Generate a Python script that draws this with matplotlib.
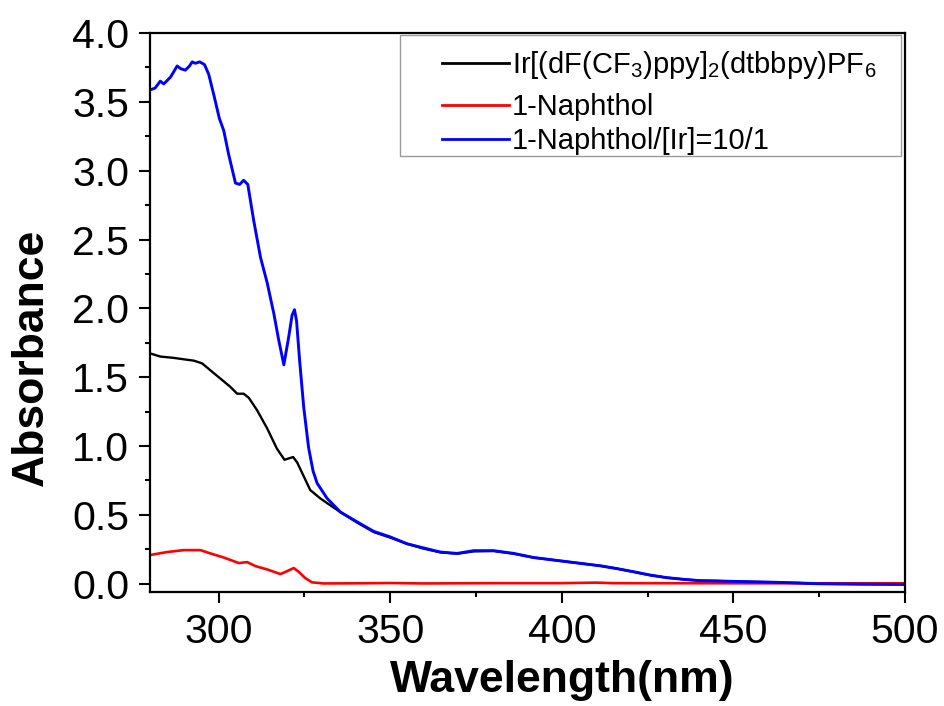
import matplotlib
matplotlib.use('Agg')
import matplotlib.pyplot as plt
from matplotlib.ticker import MultipleLocator
from matplotlib.legend_handler import HandlerLine2D

plt.rcParams['font.family'] = ['Liberation Sans', 'DejaVu Sans']
plt.rcParams['mathtext.default'] = 'regular'

# Ir complex
wl_ir = [280.4, 283.0, 287.0, 289.8, 292.8, 295.2, 297.6, 300.5, 303.4, 305.4,
         307.3, 308.8, 311.2, 314.1, 317.0, 319.2, 320.4, 321.7, 322.9, 324.8,
         326.7, 329.6, 332.5, 335.5, 340.3, 345.2, 350.0, 354.9, 359.7, 364.6,
         369.5, 374.3, 380.1, 386.0, 391.8, 401.5, 411.2, 416.0, 420.9, 425.7,
         430.6, 435.4, 440.3, 445.2, 450.0, 459.7, 469.4, 474.3, 487.0, 500.0]
abs_ir = [1.67, 1.65, 1.64, 1.63, 1.62, 1.60, 1.55, 1.49, 1.43, 1.38,
          1.38, 1.35, 1.26, 1.13, 0.98, 0.90, 0.91, 0.92, 0.88, 0.78,
          0.68, 0.62, 0.57, 0.52, 0.445, 0.375, 0.335, 0.29, 0.255, 0.228,
          0.218, 0.235, 0.238, 0.218, 0.19, 0.16, 0.13, 0.11, 0.086, 0.062,
          0.044, 0.032, 0.022, 0.02, 0.016, 0.011, 0.005, 0.0, -0.003, -0.005]

# 1-Naphthol
wl_nap = [280.4, 285.0, 289.8, 294.7, 297.6, 301.5, 305.9, 308.3, 310.7, 314.1,
          318.0, 320.0, 321.9, 323.3, 325.3, 327.2, 330.6, 340.0, 350.0, 360.0,
          380.0, 400.0, 410.0, 415.0, 450.0, 500.0]
abs_nap = [0.21, 0.23, 0.244, 0.244, 0.22, 0.19, 0.15, 0.157, 0.128, 0.104,
           0.07, 0.092, 0.114, 0.087, 0.04, 0.01, 0.002, 0.003, 0.005, 0.002,
           0.004, 0.004, 0.008, 0.004, 0.003, 0.003]

# 1-Naphthol/[Ir] = 10/1
wl_mix = [280.4, 281.5, 283.0, 284.0, 286.0, 287.9, 289.0, 290.3, 291.5, 292.3,
          293.2, 294.5, 295.9, 297.1, 298.6, 300.2, 301.5, 302.9, 304.9, 306.1,
          307.3, 308.5, 310.2, 312.2, 314.1, 316.1, 317.5, 319.0, 320.4, 321.4,
          322.1, 322.7, 323.6, 324.8, 326.2, 327.5, 328.7, 331.6, 335.5, 340.3,
          345.2, 350.0, 354.9, 359.7, 364.6, 369.5, 374.3, 380.1, 386.0, 391.8,
          401.5, 411.2, 416.0, 420.9, 425.7, 430.6, 435.4, 440.3, 445.2, 450.0,
          459.7, 469.4, 474.3, 487.0, 500.0]
abs_mix = [3.59, 3.60, 3.65, 3.63, 3.68, 3.76, 3.74, 3.73, 3.76, 3.79,
           3.78, 3.79, 3.77, 3.70, 3.55, 3.38, 3.29, 3.12, 2.91, 2.90,
           2.93, 2.90, 2.64, 2.37, 2.19, 1.96, 1.77, 1.59, 1.79, 1.95,
           1.99, 1.91, 1.62, 1.28, 0.99, 0.82, 0.73, 0.62, 0.52, 0.45,
           0.38, 0.34, 0.29, 0.26, 0.23, 0.22, 0.24, 0.24, 0.22, 0.19,
           0.16, 0.13, 0.11, 0.087, 0.063, 0.044, 0.032, 0.022, 0.02, 0.017,
           0.012, 0.005, 0.0, -0.003, -0.005]

labels = [r'Ir[(dF(CF$_3$)ppy]$_2$(dtbbpy)PF$_6$', '1-Naphthol', '1-Naphthol/[Ir]=10/1']

fig = plt.figure(figsize=(9.44, 7.06), dpi=100)
ax = fig.add_axes([0.1589, 0.1615, 0.7998, 0.7918])

ax.plot(wl_ir, abs_ir, color='black', linewidth=1.7, label=labels[0])
ax.plot(wl_nap, abs_nap, color='#ff0000', linewidth=1.9, label=labels[1])
ax.plot(wl_mix, abs_mix, color='#0000ff', linewidth=2.1, label=labels[2])

ax.set_xlim(280, 500)
ax.set_ylim(-0.06, 4.0)
ax.xaxis.set_major_locator(MultipleLocator(50))
ax.xaxis.set_minor_locator(MultipleLocator(25))
ax.yaxis.set_major_locator(MultipleLocator(0.5))
ax.yaxis.set_minor_locator(MultipleLocator(0.25))
ax.yaxis.set_major_formatter(plt.FormatStrFormatter('%.1f'))

ax.tick_params(which='major', direction='out', length=8, width=1.5, labelsize=29.5, pad=7)
ax.tick_params(which='minor', direction='out', length=3.8, width=1.5)
ax.tick_params(top=False, right=False, which='both')
for sp in ax.spines.values():
    sp.set_linewidth(1.6)

ax.set_xlabel('Wavelength(nm)', fontsize=32, fontweight='bold', va='baseline')
ax.xaxis.set_label_coords(0.546, -0.179)
ax.set_ylabel('Absorbance', fontsize=32, fontweight='bold', va='center')
ax.yaxis.set_label_coords(-0.157, 0.42)

fs = 21
leg = ax.legend(loc='upper left', bbox_to_anchor=(0.331, 0.5, 0.664, 0.496),
                mode='expand', borderaxespad=0, fontsize=fs, frameon=True,
                fancybox=False, edgecolor='#808080', handlelength=3.68,
                handletextpad=0.1, labelspacing=0.21, borderpad=0.05,
                handler_map={plt.Line2D: HandlerLine2D(xpad=1.38)})
leg.get_frame().set_linewidth(1.0)
for ln in leg.get_lines():
    ln.set_linewidth(2.0)

# extra room above and below the first legend row (its subscripts sit low)
rows = leg.get_children()[0].get_children()[1].get_children()[0].get_children()
da = rows[0].get_children()[0]
da.ydescent = 10.0
da.height = 26.0 + 10.0

fig.savefig('out.png', dpi=100)
